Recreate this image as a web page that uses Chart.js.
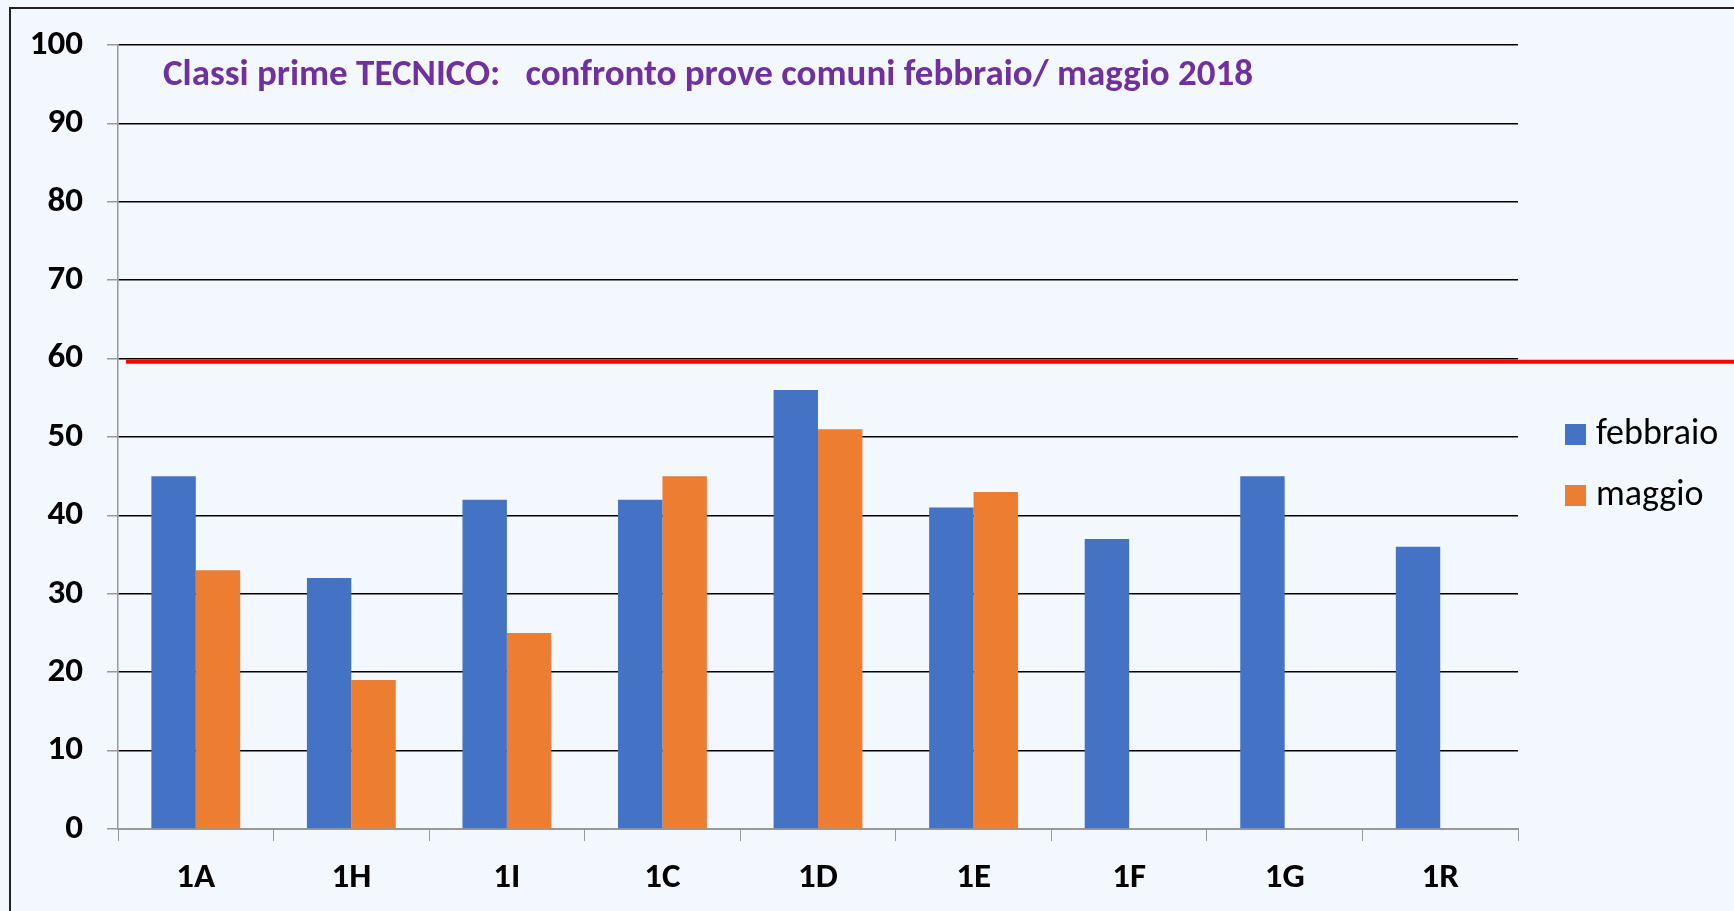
<!DOCTYPE html>
<html>
<head>
<meta charset="utf-8">
<title>Classi prime TECNICO</title>
<script src="https://cdn.jsdelivr.net/npm/chart.js@4.4.1/dist/chart.umd.min.js"></script>
<style>
  html, body { margin: 0; padding: 0; background: #f3f8fe; }
  canvas { display: block; }
</style>
</head>
<body>
<canvas id="confrontoChart" width="1734" height="911"></canvas>
<script>
// data
const categories = ['1A', '1H', '1I', '1C', '1D', '1E', '1F', '1G', '1R'];
const febbraio = [45, 32, 42, 42, 56, 41, 37, 45, 36];
const maggio = [33, 19, 25, 45, 51, 43, null, null, null];
const seriesNames = ['febbraio', 'maggio'];
const seriesColors = ['#4472c4', '#ed7d31'];
const yRange = [0, 100];
const yStep = 10;
const thresholdValue = [59.6];
const chartTitle = 'Classi prime TECNICO:   confronto prove comuni febbraio/ maggio 2018';

const FONT = 'Carlito, Lato, "Open Sans", sans-serif';

// background + outer frame (only left and top edges are visible in the original)
const framePlugin = {
  id: 'frame',
  beforeDraw(chart) {
    const { ctx, width, height } = chart;
    ctx.save();
    ctx.fillStyle = '#f3f8fe';
    ctx.fillRect(0, 0, width, height);
    ctx.strokeStyle = '#222';
    ctx.lineWidth = 2;
    ctx.beginPath();
    ctx.moveTo(10, height);
    ctx.lineTo(10, 8);
    ctx.lineTo(width, 8);
    ctx.stroke();
    ctx.restore();
  }
};

// red "soglia" line, runs from just inside the axis to the right edge of the page
const thresholdPlugin = {
  id: 'threshold',
  afterDatasetsDraw(chart) {
    const { ctx, chartArea, scales } = chart;
    const y = scales.y.getPixelForValue(thresholdValue[0]);
    ctx.save();
    ctx.strokeStyle = '#ff0000';
    ctx.lineWidth = 4;
    ctx.beginPath();
    ctx.moveTo(chartArea.left + 8, y);
    ctx.lineTo(chart.width, y);
    ctx.stroke();
    ctx.restore();
  }
};

// title sits inside the plot, between the 100 and 90 lines
const titlePlugin = {
  id: 'innerTitle',
  afterDraw(chart) {
    const { ctx, chartArea } = chart;
    ctx.save();
    ctx.font = 'bold 37px ' + FONT;
    ctx.fillStyle = '#7030a0';
    ctx.textBaseline = 'alphabetic';
    ctx.textAlign = 'left';
    ctx.fillText(chartTitle, chartArea.left + 45, chartArea.top + 40);
    ctx.restore();
  }
};

// legend on the right side, outside the plot area
const sideLegendPlugin = {
  id: 'sideLegend',
  afterDraw(chart) {
    const { ctx, chartArea } = chart;
    ctx.save();
    ctx.font = '36px ' + FONT;
    ctx.textBaseline = 'middle';
    ctx.textAlign = 'left';
    chart.data.datasets.forEach((ds, i) => {
      const cy = chartArea.top + 389 + i * 61;
      const x = chartArea.right + 47;
      ctx.fillStyle = ds.backgroundColor;
      ctx.fillRect(x, cy - 10, 21, 21);
      ctx.fillStyle = '#000';
      ctx.fillText(ds.label, x + 31, cy + 1);
    });
    ctx.restore();
  }
};

const ctx = document.getElementById('confrontoChart').getContext('2d');
new Chart(ctx, {
  type: 'bar',
  data: {
    labels: categories,
    datasets: [
      { label: seriesNames[0], data: febbraio, backgroundColor: seriesColors[0] },
      { label: seriesNames[1], data: maggio, backgroundColor: seriesColors[1] }
    ]
  },
  options: {
    responsive: false,
    animation: false,
    devicePixelRatio: 1,
    categoryPercentage: 0.571,
    barPercentage: 1.0,
    layout: {
      padding: { top: 44, right: 216, bottom: 0, left: 0 }
    },
    plugins: {
      legend: { display: false },
      title: { display: false },
      tooltip: { enabled: false }
    },
    scales: {
      x: {
        grid: {
          offset: true,
          drawOnChartArea: false,
          drawTicks: true,
          tickLength: 12,
          color: '#999'
        },
        border: { color: '#999', width: 2 },
        ticks: {
          color: '#000',
          font: { family: FONT, size: 35, weight: 'bold' },
          padding: 16
        },
        afterFit: (scale) => { scale.height = 82; }
      },
      y: {
        min: yRange[0],
        max: yRange[1],
        grid: {
          color: (c) => (c.tick && c.tick.value === 0 ? '#999' : '#000'),
          tickColor: '#999',
          lineWidth: 1.5,
          tickLength: 11
        },
        border: { color: '#999', width: 1.5 },
        ticks: {
          stepSize: yStep,
          color: '#000',
          font: { family: FONT, size: 35, weight: 'bold' },
          padding: 24
        },
        afterFit: (scale) => { scale.width = 118; }
      }
    }
  },
  plugins: [framePlugin, thresholdPlugin, titlePlugin, sideLegendPlugin]
});
</script>
</body>
</html>
